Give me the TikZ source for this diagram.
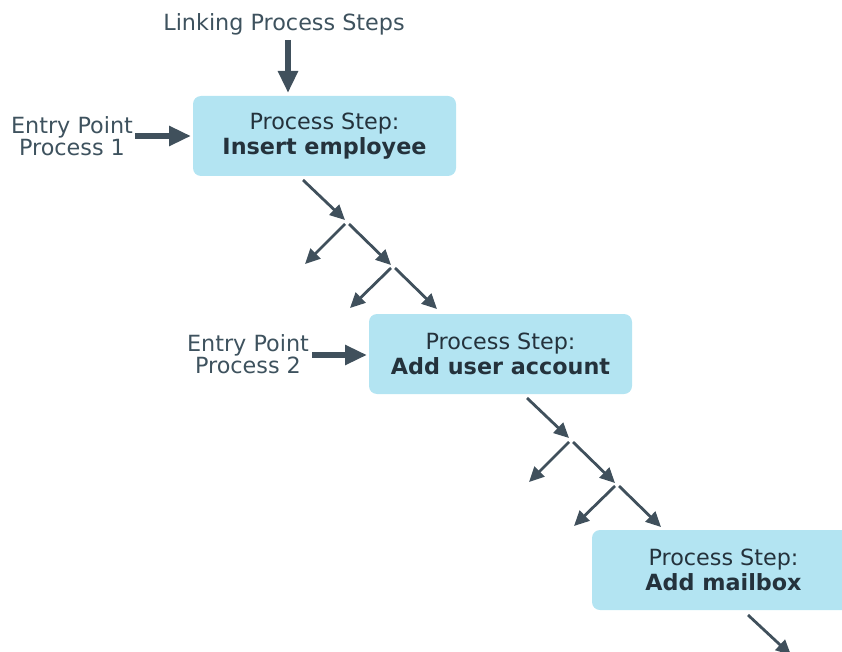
\documentclass[tikz,border=0pt]{standalone}
\usepackage{fontspec}
\setmainfont{DejaVu Sans}
\usetikzlibrary{arrows.meta}
\definecolor{boxfill}{RGB}{179,228,242}
\definecolor{arrowc}{RGB}{64,80,92}
\definecolor{labelc}{RGB}{62,82,94}
\definecolor{boxtext}{RGB}{36,50,60}
\tikzset{
  stepbox/.style={fill=boxfill, rounded corners=8pt, minimum width=263pt, minimum height=80pt, inner sep=0pt, align=center, text=boxtext, font=\fontsize{22.3}{25}\selectfont},
  lbl/.style={align=center, text=labelc, inner sep=0pt, font=\fontsize{22.3}{22.5}\selectfont},
  diag/.style={draw=arrowc, line width=2.8pt, -{Triangle[length=15pt,width=14pt]}},
  thick arrow/.style={draw=arrowc, line width=5.5pt, -{Triangle[length=22pt,width=19pt]}}
}
\begin{document}
\begin{tikzpicture}[x=1pt,y=-1pt]
\useasboundingbox (0,0) rectangle (842,652);
\clip (0,0) rectangle (842,652);
% boxes
\node[stepbox] (b1) at (324.5,136) {Process Step:\\\textbf{Insert employee}};
\node[stepbox] (b2) at (500.5,354) {Process Step:\\\textbf{Add user account}};
\node[stepbox] (b3) at (723.5,570) {Process Step:\\\textbf{Add mailbox}};
% labels
\node[lbl] (link) at (284,24) {Linking Process Steps};
\node[lbl] (e1) at (72,136) {Entry Point\\Process 1};
\node[lbl] (e2) at (248,354) {Entry Point\\Process 2};
% coordinates
\coordinate (linkS) at (288,40);
\coordinate (linkE) at (288,93);
\coordinate (e1S) at (135,136);
\coordinate (e1E) at (191,136);
\coordinate (e2S) at (312,355);
\coordinate (e2E) at (367,355);
% chain 1
\coordinate (p1) at (303,180);
\coordinate (p2) at (345,220);
\coordinate (p3a) at (345,224);
\coordinate (p3b) at (349,224);
\coordinate (p3l) at (305,264);
\coordinate (p3r) at (391,265);
\coordinate (p4a) at (391,268);
\coordinate (p4b) at (395,268);
\coordinate (p4l) at (350,308);
\coordinate (p4r) at (437,309);
% chain 2
\coordinate (q1) at (527,398);
\coordinate (q2) at (569,438);
\coordinate (q3a) at (569,442);
\coordinate (q3b) at (573,442);
\coordinate (q3l) at (529,482);
\coordinate (q3r) at (615,483);
\coordinate (q4a) at (615,486);
\coordinate (q4b) at (619,486);
\coordinate (q4l) at (574,526);
\coordinate (q4r) at (661,527);
% chain 3
\coordinate (r1) at (748,615);
\coordinate (r2) at (791,655);
% arrows
\draw[thick arrow] (linkS) -- (linkE);
\draw[thick arrow] (e1S) -- (e1E);
\draw[thick arrow] (e2S) -- (e2E);
\draw[diag] (p1) -- (p2);
\draw[diag] (p3a) -- (p3l);
\draw[diag] (p3b) -- (p3r);
\draw[diag] (p4a) -- (p4l);
\draw[diag] (p4b) -- (p4r);
\draw[diag] (q1) -- (q2);
\draw[diag] (q3a) -- (q3l);
\draw[diag] (q3b) -- (q3r);
\draw[diag] (q4a) -- (q4l);
\draw[diag] (q4b) -- (q4r);
\draw[diag] (r1) -- (r2);
\end{tikzpicture}
\end{document}
